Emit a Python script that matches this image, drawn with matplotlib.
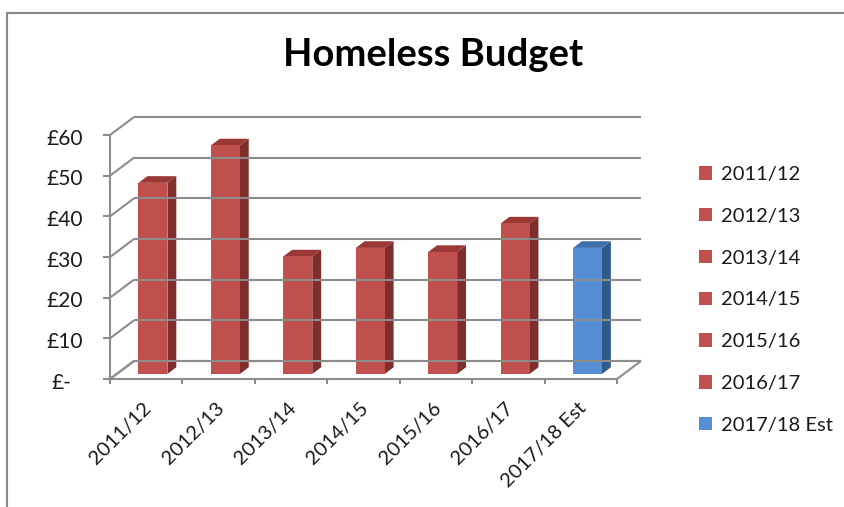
import matplotlib.pyplot as plt
from matplotlib.patches import Polygon, Patch
from matplotlib.lines import Line2D

plt.rcParams['font.family'] = ['Lato', 'DejaVu Sans']

# Homeless budget by year (£m)
years = ['2011/12', '2012/13', '2013/14', '2014/15', '2015/16', '2016/17', '2017/18 Est']
budget = [47.0, 56.2, 28.9, 31.0, 30.0, 37.0, 31.0]
y_ticks = [0, 10, 20, 30, 40, 50, 60]
y_labels = ['£-', '£10', '£20', '£30', '£40', '£50', '£60']

red = dict(front='#C0504D', side='#7F2E2C', top='#993835')
blue = dict(front='#558ED5', side='#2F5A8C', top='#3E6DAA')
faces = [red] * 6 + [blue]

grid_col = '#8c8c8c'
text_col = '#1a1a1a'

W, H = 844, 507
fig = plt.figure(figsize=(W / 100, H / 100), dpi=100)

# front plane of the plot box (pixels from top-left)
px_left, px_right, px_zero, px_top = 110, 617, 379, 135
ax = fig.add_axes([px_left / W, 1 - px_zero / H,
                   (px_right - px_left) / W, (px_zero - px_top) / H])
n = len(years)
ax.set_xlim(0, n)
ax.set_ylim(0, 60)
ax.axis('off')

# oblique depth vector, in category / value units
DX = 24 / ((px_right - px_left) / n)
DY = 18 / ((px_zero - px_top) / 60)

kw = dict(color=grid_col, lw=1.5, clip_on=False, solid_capstyle='butt')

# floor
ax.add_patch(Polygon([(0, 0), (n, 0), (n + DX, DY), (DX, DY)], closed=True,
                     facecolor='white', edgecolor=grid_col, lw=1.5, clip_on=False))
# back wall gridlines and side wall diagonals
for v in y_ticks:
    ax.plot([DX, n + DX], [v + DY, v + DY], **kw)
    ax.plot([0, DX], [v, v + DY], **kw)
    ax.plot([-0.1, 0], [v, v], **kw)
ax.plot([0, 0], [0, 60], **kw)
for i in range(n + 1):
    ax.plot([i, i], [0, -1.3], **kw)

# 3-D columns
t0, t1 = 0.28, 0.65
bw = 0.4
ddx, ddy = (t1 - t0) * DX, (t1 - t0) * DY
for i, (v, c) in enumerate(zip(budget, faces)):
    xl = i + 0.5 - bw / 2 + t0 * DX
    xr = xl + bw
    yb = t0 * DY
    yt = yb + v
    ax.add_patch(Polygon([(xr, yb), (xr + ddx, yb + ddy), (xr + ddx, yt + ddy), (xr, yt)],
                         facecolor=c['side'], edgecolor='none', clip_on=False))
    ax.add_patch(Polygon([(xl, yt), (xr, yt), (xr + ddx, yt + ddy), (xl + ddx, yt + ddy)],
                         facecolor=c['top'], edgecolor='none', clip_on=False))
    ax.add_patch(Polygon([(xl, yb), (xr, yb), (xr, yt), (xl, yt)],
                         facecolor=c['front'], edgecolor='none', clip_on=False))

# axis labels (accounting style: the dash sits left of the digits' right edge)
for v, lab in zip(y_ticks, y_labels):
    x = -0.54 if v == 0 else -0.37
    ax.text(x, v - 0.9, lab, ha='right', va='center', fontsize=15, color=text_col)
for i, lab in enumerate(years):
    ax.text(i + 0.45, -5.0, lab, ha='right', va='top', rotation=45,
            rotation_mode='anchor', fontsize=14.5, color=text_col)

fig.text(433 / W, 1 - 66 / H, 'Homeless Budget', ha='center', va='baseline',
         fontsize=27.5, fontweight='bold', color='black')

handles = [Patch(facecolor=c['front'], edgecolor='none') for c in faces]
fig.legend(handles, years, loc='upper left', bbox_to_anchor=(699 / W, 1 - 166 / H),
           frameon=False, fontsize=14.5, borderpad=0, borderaxespad=0,
           handlelength=0.65, handleheight=0.65, handletextpad=0.45,
           labelspacing=1.23, labelcolor=text_col)

# chart frame (top and left edges)
fig.add_artist(Line2D([7 / W, 7 / W, 1], [0, 1 - 13 / H, 1 - 13 / H],
                      transform=fig.transFigure, color='#888888', lw=1.5))

fig.savefig('out.png', dpi=100)
